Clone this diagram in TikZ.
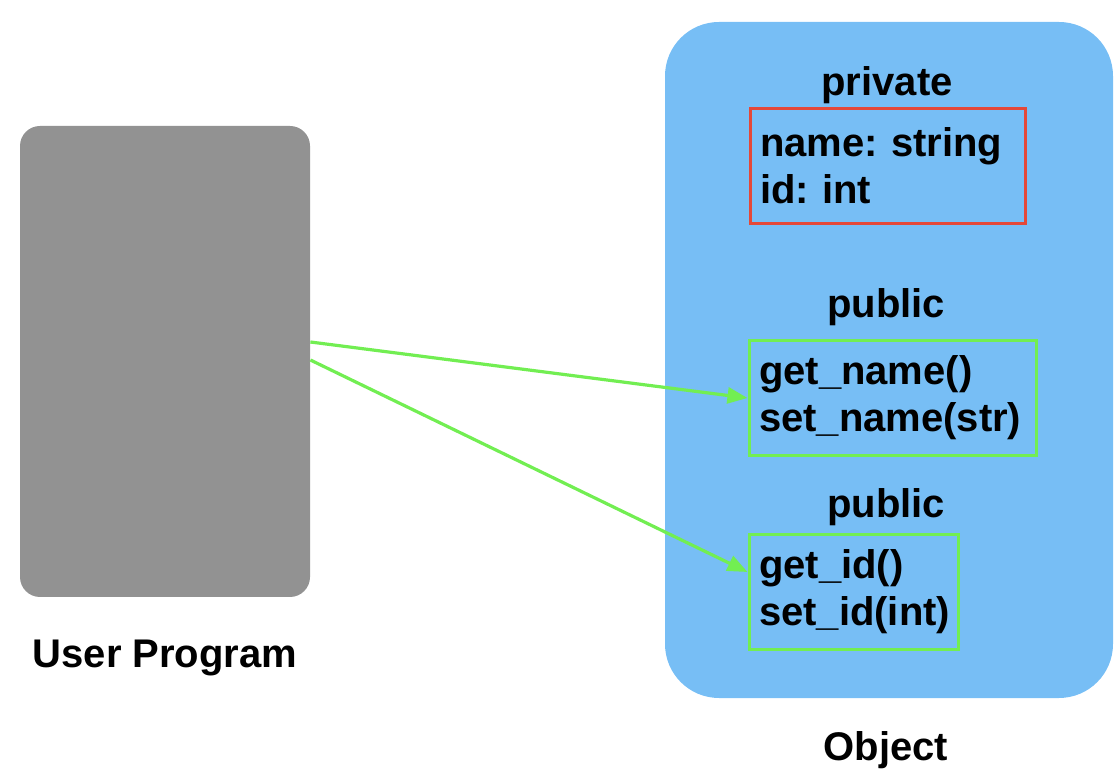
\documentclass[tikz,border=0pt]{standalone}
\usepackage{fontspec}
\setmainfont{Liberation Sans}
\usetikzlibrary{arrows.meta}
\definecolor{objblue}{RGB}{119,190,245}
\definecolor{progray}{RGB}{146,146,146}
\definecolor{privred}{RGB}{228,72,56}
\definecolor{pubgreen}{RGB}{114,238,82}
\frenchspacing
\begin{document}
\begin{tikzpicture}[x=0.5pt, y=-0.5pt,
    font=\fontsize{20}{23.5}\selectfont\bfseries,
    member/.style={draw, line width=1.5pt, minimum height=57.5pt, inner xsep=5pt, align=left},
    call/.style={draw=pubgreen, line width=1.6pt, -{Triangle[length=10pt,width=8pt]}}]
  \useasboundingbox (0,0) rectangle (1120,780);
  % user side
  \node [fill=progray, rounded corners=10pt, minimum width=145pt, minimum height=235.5pt] (user) at (165,361.5) {};
  \node (userlbl) at (165,658) {User Program};
  % object side
  \node [fill=objblue, rounded corners=27pt, minimum width=224pt, minimum height=338pt] (obj) at (889,360) {};
  \node (objlbl) at (886,750) {Object};
  \node (privlbl) at (887,85) {private};
  \node [member, draw=privred, text width=127.5pt] (priv) at (887.5,166) {name: string\\id: int};
  \node (publbl1) at (886,307) {public};
  \node [member, draw=pubgreen, text width=133.5pt] (getname) at (892.5,398) {get\_name()\\set\_name(str)};
  \node (publbl2) at (886,507) {public};
  \node [member, draw=pubgreen, text width=94.5pt] (getid) at (853.5,592) {get\_id()\\set\_id(int)};
  % calls
  \draw [call] ([yshift=9.75pt]user.east) -- (getname.west);
  \draw [call] ([yshift=0.75pt]user.east) -- ([yshift=10pt]getid.west);
\end{tikzpicture}
\end{document}
